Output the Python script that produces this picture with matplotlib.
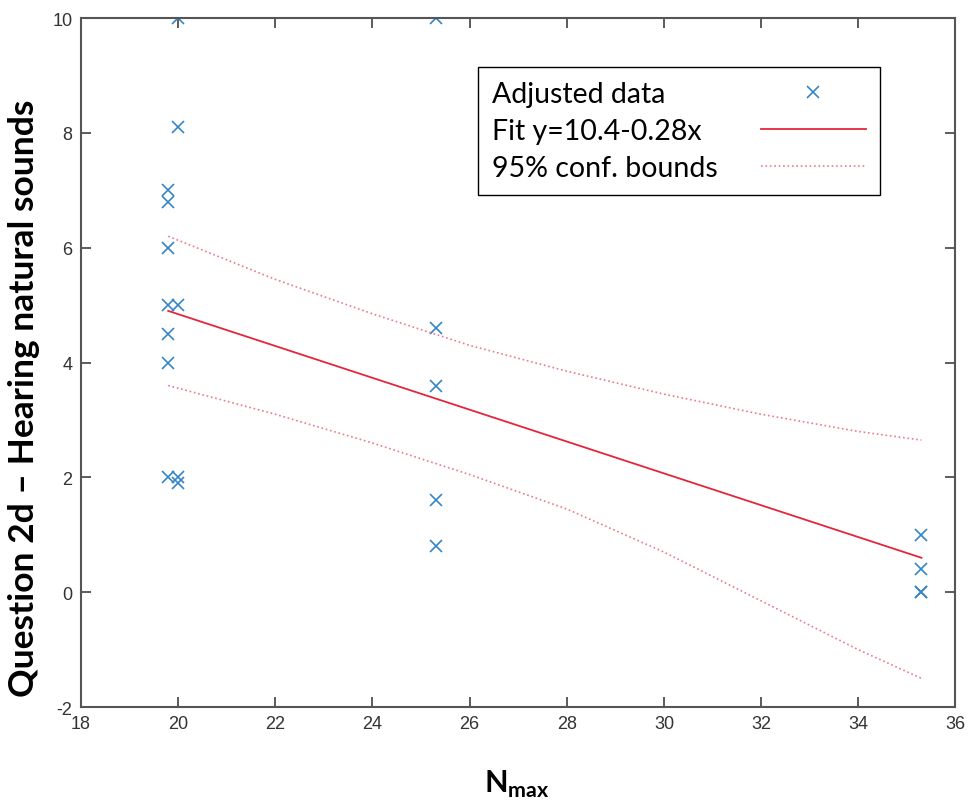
import numpy as np
import matplotlib
matplotlib.use("Agg")
import matplotlib.pyplot as plt

# data
x_data = [19.8, 19.8, 19.8, 19.8, 19.8, 19.8, 19.8,
          20.0, 20.0, 20.0, 20.0, 20.0,
          25.3, 25.3, 25.3, 25.3, 25.3,
          35.3, 35.3, 35.3, 35.3]
y_data = [7.0, 6.8, 6.0, 5.0, 4.5, 4.0, 2.0,
          10.0, 8.1, 5.0, 2.0, 1.9,
          10.0, 4.6, 3.6, 1.6, 0.8,
          1.0, 0.4, 0.0, 0.0]

fit_x = [19.8, 35.3]
fit_y = [4.9, 0.6]

bound_x = [19.8, 22.0, 24.0, 26.0, 28.0, 30.0, 32.0, 34.0, 35.3]
upper_y = [6.2, 5.45, 4.85, 4.3, 3.85, 3.45, 3.1, 2.8, 2.65]
lower_y = [3.6, 3.1, 2.6, 2.05, 1.45, 0.7, -0.15, -1.0, -1.5]

plt.rcParams['font.family'] = ['Liberation Sans', 'DejaVu Sans']
plt.rcParams['axes.unicode_minus'] = False
plt.rcParams['mathtext.fontset'] = 'custom'
plt.rcParams['mathtext.rm'] = 'Lato'
plt.rcParams['mathtext.bf'] = 'Lato:bold'

fig = plt.figure(figsize=(9.73, 8.12), dpi=100)
ax = fig.add_axes([0.083, 0.128, 0.899, 0.8485])

ax.plot(x_data, y_data, 'x', color='#3586c8', markersize=9, markeredgewidth=1.2,
        label='Adjusted data')
ax.plot(fit_x, fit_y, '-', color='#e3263a', linewidth=1.3, label='Fit y=10.4-0.28x')
ax.plot(bound_x, upper_y, ':', color='#ec7a88', linewidth=1.2, label='95% conf. bounds')
ax.plot(bound_x, lower_y, ':', color='#ec7a88', linewidth=1.2)

ax.set_xlim(18, 36)
ax.set_ylim(-2, 10)
ax.set_xticks(np.arange(18, 37, 2))
ax.set_yticks(np.arange(-2, 11, 2))
ax.tick_params(direction='in', top=True, right=True, length=7, width=1.2,
               labelsize=13, colors='#404040', labelcolor='#333333', pad=6)
for s in ax.spines.values():
    s.set_color('#555555')
    s.set_linewidth(1.5)

ax.set_ylabel('Question 2d – Hearing natural sounds', fontsize=25.5, fontweight='bold',
              family=['Lato', 'DejaVu Sans'])
ax.yaxis.set_label_coords(-0.047, 0.45)
ax.set_xlabel(r'$\mathbf{N}_{\mathbf{max}}$', fontsize=22)
ax.xaxis.set_label_coords(0.498, -0.088)

leg = ax.legend(loc='upper right', bbox_to_anchor=(0.914, 0.929), markerfirst=False,
                handlelength=3.7, handletextpad=1.5, borderpad=0.5, labelspacing=0.38,
                borderaxespad=0, fancybox=False, framealpha=1, edgecolor='black',
                prop={'family': ['Lato', 'DejaVu Sans'], 'size': 20.5})
leg.get_frame().set_linewidth(1.0)

# left-align the legend texts while keeping the handles in one column
fig.canvas.draw()
r = fig.canvas.get_renderer()
widths = [t.get_window_extent(r).width for t in leg.get_texts()]
col = leg._legend_handle_box.get_children()[0]
col.align = 'left'
for row, w in zip(col.get_children(), widths):
    row.sep = row.sep + (max(widths) - w) * 72 / fig.dpi

plt.savefig('out.png', dpi=100)
